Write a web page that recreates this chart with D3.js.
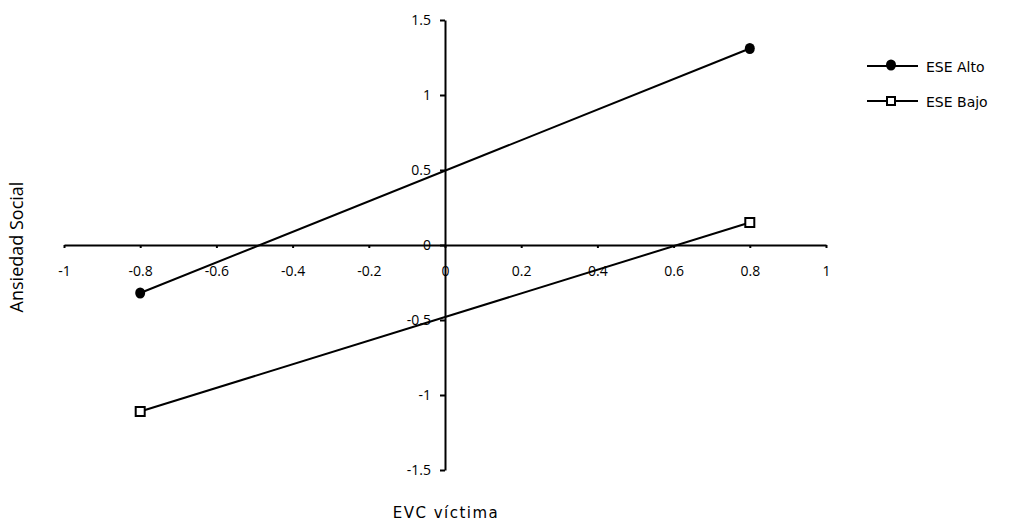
<!DOCTYPE html>
<html>
<head>
<meta charset="utf-8">
<script src="https://cdn.jsdelivr.net/npm/d3@7"></script>
<style>
  body { margin: 0; background: #fff; }
  svg { display: block; }
  text { font-family: "DejaVu Sans", sans-serif; fill: #000; }
</style>
</head>
<body>
<svg id="chart" width="1011" height="525"></svg>
<script>
// EVC víctima levels (low / high)
const evcLevels = [-0.8, 0.8];
// Ansiedad Social predicted values per ESE group
const eseAlto = [-0.32, 1.31];
const eseBajo = [-1.11, 0.15];
const seriesNames = ["ESE Alto", "ESE Bajo"];
const xTicks = [-1, -0.8, -0.6, -0.4, -0.2, 0, 0.2, 0.4, 0.6, 0.8, 1];
const yTicks = [-1.5, -1, -0.5, 0, 0.5, 1, 1.5];

const svg = d3.select("#chart");
const x = d3.scaleLinear().domain([-1, 1]).range([64, 826]);
const y = d3.scaleLinear().domain([-1.5, 1.5]).range([470, 20]);

const fmt = d => String(d);

// Horizontal axis crosses at y = 0
const xAxis = svg.append("g")
  .attr("transform", `translate(0,${y(0)})`)
  .call(d3.axisBottom(x).tickValues(xTicks).tickFormat(fmt).tickSize(3).tickSizeOuter(0).tickPadding(18));

// Vertical axis crosses at x = 0
const yAxis = svg.append("g")
  .attr("transform", `translate(${x(0)},0)`)
  .call(d3.axisLeft(y).tickValues(yTicks).tickFormat(fmt).tickSize(5).tickSizeOuter(0).tickPadding(9));

[xAxis, yAxis].forEach(a => {
  a.select(".domain").attr("stroke", "#000").attr("stroke-width", 2);
  a.selectAll(".tick line").attr("stroke", "#000").attr("stroke-width", 2);
  a.selectAll(".tick text").style("font-size", "14px").style("font-family", "Open Sans, sans-serif");
});

const line = d3.line().x(d => x(d[0])).y(d => y(d[1]));
const dataAlto = evcLevels.map((v, i) => [v, eseAlto[i]]);
const dataBajo = evcLevels.map((v, i) => [v, eseBajo[i]]);

svg.append("path").datum(dataAlto).attr("d", line)
  .attr("fill", "none").attr("stroke", "#000").attr("stroke-width", 2);
svg.append("path").datum(dataBajo).attr("d", line)
  .attr("fill", "none").attr("stroke", "#000").attr("stroke-width", 2);

// Markers
svg.selectAll(".m-alto").data(dataAlto).enter().append("ellipse")
  .attr("cx", d => x(d[0])).attr("cy", d => y(d[1]))
  .attr("rx", 5).attr("ry", 5.5).attr("fill", "#000");
svg.selectAll(".m-bajo").data(dataBajo).enter().append("rect")
  .attr("x", d => x(d[0]) - 4.5).attr("y", d => y(d[1]) - 4.5)
  .attr("width", 9).attr("height", 9)
  .attr("fill", "#fff").attr("stroke", "#000").attr("stroke-width", 2);

// Legend
const legend = svg.append("g");
const legendY = [66, 101];
seriesNames.forEach((name, i) => {
  const g = legend.append("g").attr("transform", `translate(0,${legendY[i]})`);
  g.append("line").attr("x1", 867).attr("x2", 918).attr("y1", 0).attr("y2", 0)
    .attr("stroke", "#000").attr("stroke-width", 2);
  if (i === 0) {
    g.append("ellipse").attr("cx", 891).attr("cy", -1).attr("rx", 5).attr("ry", 5.5).attr("fill", "#000");
  } else {
    g.append("rect").attr("x", 887).attr("y", -4).attr("width", 8).attr("height", 8)
      .attr("fill", "#fff").attr("stroke", "#000").attr("stroke-width", 2);
  }
  g.append("text").attr("x", 926).attr("y", 6).style("font-size", "14px").text(name);
});

// Axis titles
svg.append("text").attr("x", x(0) + 1).attr("y", 518).attr("text-anchor", "middle")
  .style("font-size", "15px").style("letter-spacing", "1.5px").text("EVC víctima");
svg.append("text").attr("transform", `translate(23,${y(0) + 2}) rotate(-90)`)
  .attr("text-anchor", "middle").style("font-size", "18px").style("font-family", "Open Sans, sans-serif")
  .text("Ansiedad Social");
</script>
</body>
</html>
